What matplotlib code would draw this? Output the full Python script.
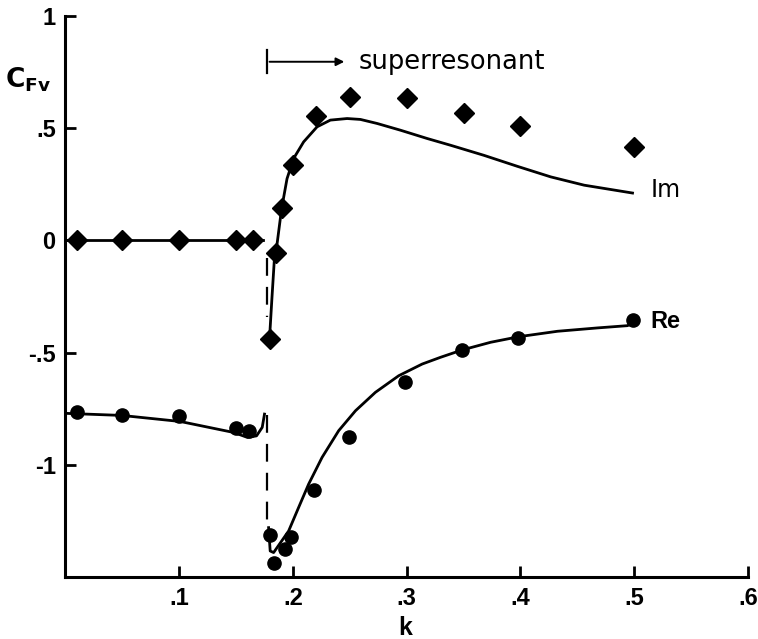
import matplotlib.pyplot as plt

# measured points (diamonds = Im, circles = Re)
k_im = [0.01, 0.05, 0.1, 0.15, 0.165, 0.18, 0.185, 0.19, 0.2, 0.22, 0.25, 0.3, 0.35, 0.4, 0.5]
im_pts = [0.0, 0.0, 0.0, 0.0, 0.0, -0.44, -0.057, 0.143, 0.335, 0.555, 0.64, 0.633, 0.566, 0.51, 0.414]

k_re = [0.01, 0.05, 0.1, 0.15, 0.161, 0.1795, 0.1836, 0.1933, 0.1986, 0.2182, 0.249, 0.2983, 0.349, 0.398, 0.4985]
re_pts = [-0.766, -0.777, -0.784, -0.838, -0.851, -1.312, -1.439, -1.376, -1.32, -1.113, -0.878, -0.633, -0.488, -0.434, -0.355]

# theory curves
im_left_k = [0.002, 0.174]
im_left = [0.0, 0.0]
im_right_k = [0.1795, 0.1815, 0.1836, 0.185, 0.19, 0.1948, 0.2006, 0.2094, 0.2212, 0.2329, 0.2476,
              0.2593, 0.274, 0.2945, 0.318, 0.3385, 0.3679, 0.3973, 0.4266, 0.456, 0.4985]
im_right = [-0.43, -0.26, -0.09, -0.057, 0.14, 0.275, 0.365, 0.439, 0.506, 0.536, 0.543,
            0.539, 0.521, 0.491, 0.454, 0.424, 0.379, 0.330, 0.283, 0.246, 0.211]

re_left_k = [0.002, 0.0496, 0.101, 0.148, 0.16, 0.168, 0.173, 0.175]
re_left = [-0.771, -0.78, -0.807, -0.856, -0.878, -0.871, -0.833, -0.774]
re_right_k = [0.1786, 0.180, 0.183, 0.1962, 0.205, 0.2138, 0.2256, 0.2402, 0.255, 0.2725, 0.293,
              0.3136, 0.3297, 0.3489, 0.3738, 0.3987, 0.4325, 0.4677, 0.494, 0.4985]
re_right = [-1.28, -1.384, -1.391, -1.295, -1.19, -1.086, -0.967, -0.848, -0.759, -0.677, -0.603,
            -0.551, -0.521, -0.488, -0.454, -0.429, -0.405, -0.39, -0.38, -0.37]

# jumps at resonance (dashed)
jump_k = 0.177
im_jump = [-0.08, -0.34]
re_jump = [-0.78, -1.31]

xticks = [0.1, 0.2, 0.3, 0.4, 0.5, 0.6]
xtick_labels = [".1", ".2", ".3", ".4", ".5", ".6"]
yticks = [1, 0.5, 0, -0.5, -1]
ytick_labels = ["1", ".5", "0", "-.5", "-1"]

fig = plt.figure(figsize=(7.58, 6.39), dpi=100)
ax = fig.add_axes([0.0863, 0.097, 0.9005, 0.878])

lw = 2.0
ax.plot(im_left_k, im_left, color="black", lw=lw)
ax.plot(im_right_k, im_right, color="black", lw=lw)
ax.plot(re_left_k, re_left, color="black", lw=lw)
ax.plot(re_right_k, re_right, color="black", lw=lw)
ax.plot([jump_k, jump_k], im_jump, color="black", lw=1.6, linestyle=(0, (8, 5)))
ax.plot([jump_k, jump_k], re_jump, color="black", lw=1.6, linestyle=(0, (8, 5)))

ax.plot(k_im, im_pts, linestyle="none", marker="D", ms=10, color="black")
ax.plot(k_re, re_pts, linestyle="none", marker="o", ms=9.5, color="black")

ax.set_xlim(0, 0.6)
ax.set_ylim(-1.5, 1)
ax.spines["top"].set_visible(False)
ax.spines["right"].set_visible(False)
ax.spines["left"].set_linewidth(2.2)
ax.spines["bottom"].set_linewidth(2.2)

tick_font = dict(family="Liberation Sans", weight="bold", size=17)
ax.set_xticks(xticks)
ax.set_xticklabels(xtick_labels, fontdict=tick_font)
ax.set_yticks(yticks)
ax.set_yticklabels(ytick_labels, fontdict=tick_font)
ax.tick_params(direction="in", length=8, width=2, pad=7)

# superresonant arrow
ax.plot([0.177, 0.177], [0.745, 0.85], color="black", lw=1.6, clip_on=False)
ax.annotate("", xy=(0.2476, 0.796), xytext=(0.177, 0.796),
            arrowprops=dict(arrowstyle="-|>", color="black", lw=1.4, mutation_scale=12))
ax.text(0.2575, 0.796, "superresonant", fontsize=18.5, family="DejaVu Sans",
        ha="left", va="center")

ax.text(0.514, 0.223, "Im", fontsize=17, family="DejaVu Sans", ha="left", va="center")
ax.text(0.514, -0.362, "Re", fontsize=17, family="Liberation Sans", weight="bold",
        ha="left", va="center")

ax.text(-0.033, 0.714, r"$\mathbf{C}_{\mathbf{Fv}}$", fontsize=19, ha="center", va="center")
ax.text(0.299, -1.725, "k", fontsize=18, family="Liberation Sans", weight="bold",
        ha="center", va="center")

fig.savefig("out.png", dpi=100)
